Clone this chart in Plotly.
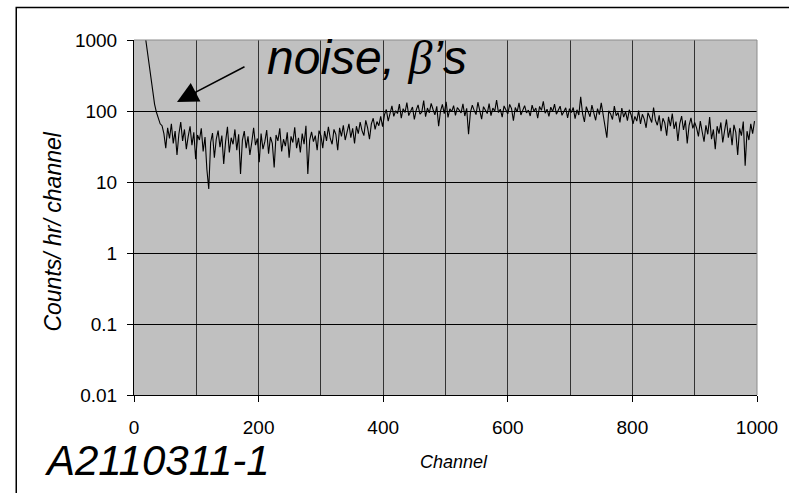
import math
import plotly.graph_objects as go

# channel numbers (every 3rd channel) and counts/hr/channel
channels = list(range(18, 997, 3))

head = [1150, 720, 430, 280, 190, 125, 96, 80, 66]  # 18..42
r1 = [62, 48, 30, 58, 41, 66, 35, 52, 24, 47,
      70, 38, 55, 29, 44, 61, 33, 50, 21, 46,
      39, 57, 27, 43, 15, 8, 36, 49, 22, 40,
      53, 31, 45, 18, 37, 60, 26, 42, 34, 55,
      28, 47, 13, 39, 52, 30, 44, 24, 36, 58,
      33, 41, 19, 48, 29, 37, 54, 25, 43, 35,
      16, 46, 38, 57, 27, 40, 32, 50, 22, 44,
      36, 59, 30, 42, 26, 48, 34, 62, 13, 39,
      51, 37, 45, 28, 53]
r2 = [45, 30, 52, 38, 60, 41, 34, 55, 47, 28,
      58, 44, 63, 39, 50, 66, 42, 57, 35, 61,
      48, 70, 53, 45, 74, 58, 40, 66, 79, 55,
      71, 62, 84, 60]
r3 = [88, 105, 72, 96, 118, 84, 101, 92, 125, 79,
      108, 95, 131, 86, 99, 114, 76, 103, 122, 90,
      97, 140, 83, 110, 94, 128, 105, 88, 116, 61,
      100, 124, 92, 135, 81, 107, 98, 119, 87, 112,
      103, 94, 126, 85, 109, 47, 96, 121, 102, 89,
      133, 98, 77, 115, 104, 92, 127, 86, 110, 99,
      142, 95, 106, 82, 118, 101, 91, 124, 108, 73,
      112, 97, 130, 88, 105, 119, 94, 103, 85, 121,
      99, 110, 79, 116, 102, 137, 93, 106, 84, 113,
      98, 125, 90, 104, 117, 87, 101, 111, 80, 108]
r4 = [95, 112, 78, 104, 88, 158, 92, 70, 115, 99,
      83, 121, 97, 74, 108, 89, 130, 85, 64, 42,
      101, 91, 76, 117, 86, 95, 69, 110, 82, 98,
      73, 104, 88, 66]
r5 = [84, 72, 101, 66, 90, 77, 58, 95, 81, 69,
      112, 74, 63, 87, 52, 79, 68, 45, 83, 61,
      92, 56, 71, 38, 66, 85, 54, 74, 35, 63,
      80, 57, 69]
r6 = [58, 44, 72, 51, 37, 63, 47, 82, 40, 55,
      29, 61, 48, 69, 36, 53, 76, 42, 58, 33,
      64, 50, 24, 57, 45, 71, 17, 52, 39, 66,
      48, 72]
counts = head + r1 + r2 + r3 + r4 + r5 + r6

y_tick_vals = [0.01, 0.1, 1, 10, 100, 1000]
y_tick_text = ["0.01", "0.1", "1", "10", "100", "1000"]
x_tick_vals = [0, 200, 400, 600, 800, 1000]

FONT = "Liberation Sans, Arial, sans-serif"

fig = go.Figure()
fig.add_trace(go.Scatter(x=channels, y=counts, mode="lines",
                         line=dict(color="black", width=1.1), showlegend=False))

fig.update_layout(
    width=789, height=493,
    margin=dict(l=134, r=32, t=40, b=98),
    paper_bgcolor="white", plot_bgcolor="#c0c0c0",
    font=dict(family=FONT, color="black", size=19),
    xaxis=dict(range=[0, 1000], tickvals=x_tick_vals, showgrid=True,
               gridcolor="#333333", gridwidth=1,
               minor=dict(dtick=100, showgrid=True, gridcolor="#333333", gridwidth=1),
               showline=True, linecolor="black", linewidth=1,
               ticks="outside", ticklen=6, tickcolor="black",
               ticklabelstandoff=9,
               tickfont=dict(size=19), zeroline=False),
    yaxis=dict(type="log", range=[-2, 3], tickvals=y_tick_vals, ticktext=y_tick_text,
               showgrid=True, gridcolor="black", gridwidth=1,
               showline=True, linecolor="black", linewidth=1,
               ticks="outside", ticklen=6, tickcolor="black",
               ticklabelstandoff=6,
               tickfont=dict(size=19), zeroline=False),
)

# plot-area border (gray) top/right
fig.add_shape(type="line", xref="paper", yref="paper", x0=0, x1=1, y0=1, y1=1,
              line=dict(color="#8c8c8c", width=1), layer="above")
fig.add_shape(type="line", xref="paper", yref="paper", x0=1, x1=1, y0=0, y1=1,
              line=dict(color="#8c8c8c", width=1), layer="above")

# outer frame of the figure
fig.add_shape(type="rect", xref="paper", yref="paper",
              x0=-0.189, x1=1.2, y0=-0.4, y1=1.0915,
              line=dict(color="black", width=1.5), layer="above")

# arrow
fig.add_annotation(x=69, y=math.log10(134), xref="x", yref="y", text="", showarrow=True,
                   ax=69, ay=-36, arrowhead=2, arrowsize=2.8, arrowwidth=1.5,
                   arrowcolor="black")
# label
fig.add_annotation(x=210, y=math.log10(560), xref="x", yref="y", xanchor="left", yanchor="middle",
                   text="<i>noise, </i><span style='font-family:Liberation Serif'><i>β</i></span><i>’s</i>",
                   showarrow=False, font=dict(size=48, family=FONT, color="black"))

# axis titles
fig.add_annotation(x=-0.1302, y=0.46, xref="paper", yref="paper", textangle=-90,
                   xanchor="center", yanchor="middle",
                   text="<i>Counts/ hr/ channel</i>", showarrow=False,
                   font=dict(size=23, family=FONT))
fig.add_annotation(x=0.514, y=-0.19, xref="paper", yref="paper",
                   xanchor="center", yanchor="middle",
                   text="<i>Channel</i>", showarrow=False,
                   font=dict(size=18, family=FONT))
fig.add_annotation(x=0.0362, y=-0.185, xref="paper", yref="paper",
                   xanchor="center", yanchor="middle",
                   text="<i>A2110311-1</i>", showarrow=False,
                   font=dict(size=42, family=FONT))

fig.write_html("out.html")
